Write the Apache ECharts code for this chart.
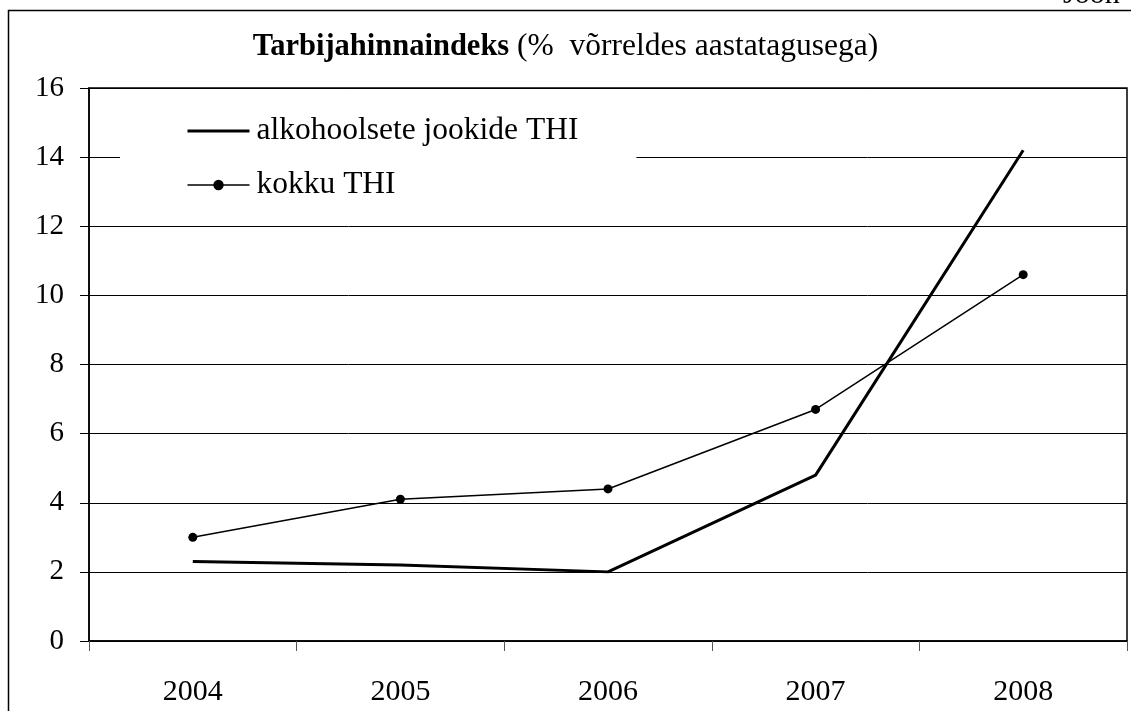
<!DOCTYPE html>
<html>
<head>
<meta charset="utf-8">
<script src="https://cdn.jsdelivr.net/npm/echarts@6/dist/echarts.min.js"></script>
<style>
  html, body { margin: 0; padding: 0; background: #fff; }
  #chart { width: 1131px; height: 711px; }
</style>
</head>
<body>
<div id="chart"></div>
<script>
const years = ['2004', '2005', '2006', '2007', '2008'];
const alkoValues = [2.3, 2.2, 2.0, 4.8, 14.2];
const kokkuValues = [3.0, 4.1, 4.4, 6.7, 10.6];
const seriesNames = ['alkohoolsete jookide THI', 'kokku THI'];

const font = '"Liberation Serif", "Times New Roman", serif';
const chart = echarts.init(document.getElementById('chart'), null, { renderer: 'canvas' });

chart.setOption({
    backgroundColor: '#fff',
    animation: false,
    title: {
        text: '{b|Tarbijahinnaindeks}{n| (%  võrreldes aastatagusega)}',
        left: 'center',
        top: 26,
        textStyle: {
            rich: {
                b: { fontFamily: font, fontWeight: 'bold', fontSize: 30.5, color: '#000' },
                n: { fontFamily: font, fontWeight: 'normal', fontSize: 31.5, color: '#000' }
            }
        }
    },
    graphic: [
        {
            type: 'rect',
            shape: { x: 8.5, y: 10.5, width: 1200, height: 800 },
            style: { fill: null, stroke: '#000', lineWidth: 1.5 },
            silent: true,
            z: -1
        },
        {
            type: 'text',
            left: 1063,
            top: -20,
            style: { text: 'Joon', font: '30px ' + font, fill: '#000' },
            silent: true
        }
    ],
    legend: {
        orient: 'vertical',
        left: 120,
        top: 109,
        backgroundColor: '#fff',
        padding: [6, 58, 6, 66],
        itemWidth: 62,
        itemHeight: 13,
        itemGap: 22,
        textStyle: { fontFamily: font, fontSize: 31.5, color: '#000', padding: [0, 0, 0, 2] },
        data: [
            { name: seriesNames[0], itemStyle: { opacity: 0 }, lineStyle: { width: 3 } },
            { name: seriesNames[1], lineStyle: { width: 1.5 } }
        ]
    },
    grid: {
        left: 89,
        right: 4,
        top: 88,
        bottom: 70,
        show: true,
        borderColor: '#000',
        borderWidth: 1.5
    },
    xAxis: {
        type: 'category',
        data: years,
        boundaryGap: true,
        axisLine: { lineStyle: { color: '#000', width: 1.5 } },
        axisTick: { show: true, length: 10, lineStyle: { color: '#555' } },
        axisLabel: { fontFamily: font, fontSize: 30, color: '#000', margin: 36 }
    },
    yAxis: {
        type: 'value',
        min: 0,
        max: 16,
        interval: 2,
        axisLine: { show: true, lineStyle: { color: '#000', width: 1.5 } },
        axisTick: { show: true, length: 9, lineStyle: { color: '#000' } },
        axisLabel: { fontFamily: font, fontSize: 29, color: '#000', margin: 25 },
        splitLine: { lineStyle: { color: '#000', width: 1 } }
    },
    series: [
        {
            name: seriesNames[0],
            type: 'line',
            data: alkoValues,
            symbol: 'none',
            lineStyle: { color: '#000', width: 3 },
            itemStyle: { color: '#000' }
        },
        {
            name: seriesNames[1],
            type: 'line',
            data: kokkuValues,
            symbol: 'circle',
            symbolSize: 9,
            lineStyle: { color: '#000', width: 1.5 },
            itemStyle: { color: '#000' }
        }
    ]
});
</script>
</body>
</html>
